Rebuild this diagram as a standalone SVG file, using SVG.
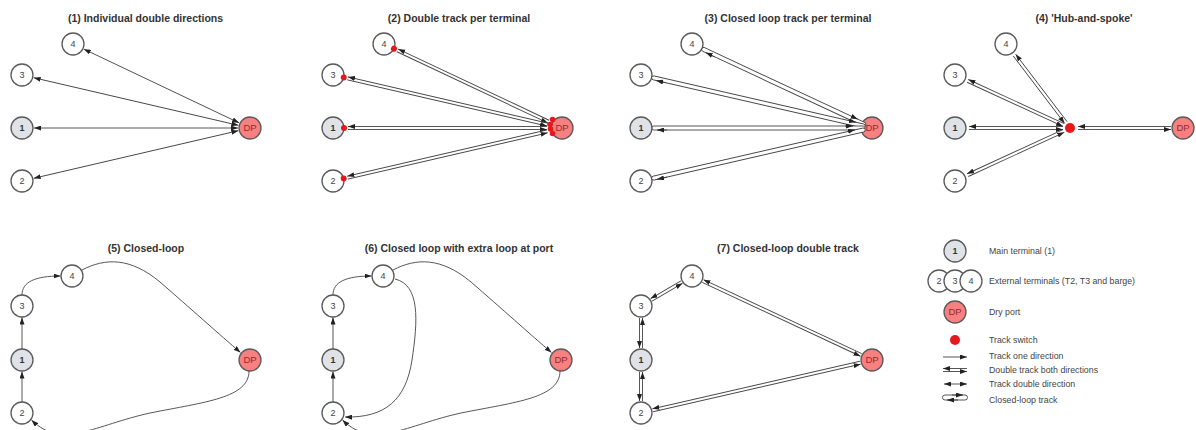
<svg xmlns="http://www.w3.org/2000/svg" width="1196" height="430" viewBox="0 0 1196 430">
<style>
.title{font-family:"Liberation Sans",Arial,sans-serif;font-size:10.5px;font-weight:bold;fill:#333;text-anchor:middle}
.nd circle{fill:#fff;stroke:#5a5a5a;stroke-width:1.3}
.nd text{font-family:"Liberation Sans",Arial,sans-serif;font-size:9px;fill:#444;text-anchor:middle}
.main circle{fill:#dfe3e8}
.main text{font-weight:bold;fill:#333}
.dp circle{fill:#f98080}
.dp text{fill:#8c2d2d;font-size:9.5px}
.conn line,.conn path{fill:none;stroke:#444;stroke-width:0.9}
.conn .loop{fill:#fff}
.uni{marker-end:url(#ah)}
.bi{marker-start:url(#ah);marker-end:url(#ah)}
.sw{fill:#e8171b}
.lg{font-family:"Liberation Sans",Arial,sans-serif;font-size:8.8px;fill:#444}
</style>
<defs>
<marker id="ah" viewBox="0 0 7 5" refX="7" refY="2.5" markerWidth="7" markerHeight="5" markerUnits="userSpaceOnUse" orient="auto-start-reverse"><path d="M0,0 L7,2.5 L0,5 z" fill="#222"/></marker>
</defs>
<rect width="1196" height="430" fill="#fff"/>

<!-- Panel 1 -->
<text class="title" x="145.5" y="22">(1) Individual double directions</text>
<g id="p1-n4" class="nd"><circle cx="73" cy="44" r="11"/><text x="73" y="47.2">4</text></g>
<g id="p1-n3" class="nd"><circle cx="22" cy="75" r="11"/><text x="22" y="78.2">3</text></g>
<g id="p1-n1" class="nd main"><circle cx="22" cy="128" r="11"/><text x="22" y="131.2">1</text></g>
<g id="p1-n2" class="nd"><circle cx="22" cy="181" r="11"/><text x="22" y="184.2">2</text></g>
<g id="p1-dp" class="nd dp"><circle cx="250" cy="128" r="11"/><text x="250" y="131.4">DP</text></g>
<g id="p1-connectors" class="conn">
<line class="bi" x1="34" y1="128" x2="238" y2="128"/>
<g transform="translate(73,44) rotate(25.39)"><line class="bi" x1="12" y1="0" x2="183.9" y2="0"/></g>
<g transform="translate(22,75) rotate(13.09)"><line class="bi" x1="12" y1="0" x2="222.1" y2="0"/></g>
<g transform="translate(22,181) rotate(-13.09)"><line class="bi" x1="12" y1="0" x2="222.1" y2="0"/></g>
</g>

<!-- Panel 2 -->
<text class="title" x="459" y="22">(2) Double track per terminal</text>
<g id="p2-n4" class="nd"><circle cx="384" cy="44" r="11"/><text x="384" y="47.2">4</text></g>
<g id="p2-n3" class="nd"><circle cx="333" cy="75" r="11"/><text x="333" y="78.2">3</text></g>
<g id="p2-n1" class="nd main"><circle cx="333" cy="128" r="11"/><text x="333" y="131.2">1</text></g>
<g id="p2-n2" class="nd"><circle cx="333" cy="181" r="11"/><text x="333" y="184.2">2</text></g>
<g id="p2-dp" class="nd dp"><circle cx="562" cy="128" r="11"/><text x="562" y="131.4">DP</text></g>
<g id="p2-connectors" class="conn">
<g transform="translate(384,44) rotate(25.26)"><path class="uni" d="M181.8,-1.5 H15"/><path class="uni" d="M15,1.5 H181.8"/><circle class="sw" cx="11" cy="0" r="3"/></g>
<g transform="translate(333,75) rotate(13.03)"><path class="uni" d="M220,-1.5 H15"/><path class="uni" d="M15,1.5 H220"/><circle class="sw" cx="11" cy="0" r="3"/></g>
<g transform="translate(333,128)"><path class="uni" d="M214,-1.5 H15"/><path class="uni" d="M15,1.5 H214"/><circle class="sw" cx="11" cy="0" r="3"/></g>
<g transform="translate(333,181) rotate(-13.03)"><path class="uni" d="M220,-1.5 H15"/><path class="uni" d="M15,1.5 H220"/><circle class="sw" cx="11" cy="0" r="3"/></g>
<circle class="sw" cx="552.5" cy="119.5" r="2.8"/>
<circle class="sw" cx="550" cy="124.5" r="2.8"/>
<circle class="sw" cx="550.5" cy="129" r="2.8"/>
<circle class="sw" cx="552.5" cy="133.5" r="2.8"/>
</g>

<!-- Panel 3 -->
<text class="title" x="788" y="22">(3) Closed loop track per terminal</text>
<g id="p3-n4" class="nd"><circle cx="692" cy="44" r="11"/><text x="692" y="47.2">4</text></g>
<g id="p3-n3" class="nd"><circle cx="641" cy="75" r="11"/><text x="641" y="78.2">3</text></g>
<g id="p3-n1" class="nd main"><circle cx="641" cy="128" r="11"/><text x="641" y="131.2">1</text></g>
<g id="p3-n2" class="nd"><circle cx="641" cy="181" r="11"/><text x="641" y="184.2">2</text></g>
<g id="p3-dp" class="nd dp"><circle cx="872" cy="128" r="11"/><text x="872" y="131.4">DP</text></g>
<g id="p3-connectors" class="conn">
<g transform="translate(692,44) rotate(25.02)"><path class="loop" d="M13,-2 H189.6 A2,2 0 0 1 189.6,2 H13 A2,2 0 0 1 13,-2 Z"/><path class="uni" d="M175,-2 H182"/><path class="uni" d="M26,2 H16"/></g>
<g transform="translate(641,75) rotate(12.92)"><path class="loop" d="M13,-2 H228 A2,2 0 0 1 228,2 H13 A2,2 0 0 1 13,-2 Z"/><path class="uni" d="M213,-2 H220"/><path class="uni" d="M26,2 H16"/></g>
<g transform="translate(641,128)"><path class="loop" d="M13,-2 H222 A2,2 0 0 1 222,2 H13 A2,2 0 0 1 13,-2 Z"/><path class="uni" d="M204,-2 H212"/><path class="uni" d="M26,2 H16"/></g>
<g transform="translate(641,181) rotate(-12.92)"><path class="loop" d="M13,-2 H228 A2,2 0 0 1 228,2 H13 A2,2 0 0 1 13,-2 Z"/><path class="uni" d="M213,-2 H220"/><path class="uni" d="M26,2 H16"/></g>
</g>

<!-- Panel 4 -->
<text class="title" x="1084" y="22">(4) 'Hub-and-spoke'</text>
<g id="p4-n4" class="nd"><circle cx="1006" cy="44" r="11"/><text x="1006" y="47.2">4</text></g>
<g id="p4-n3" class="nd"><circle cx="955" cy="75" r="11"/><text x="955" y="78.2">3</text></g>
<g id="p4-n1" class="nd main"><circle cx="955" cy="128" r="11"/><text x="955" y="131.2">1</text></g>
<g id="p4-n2" class="nd"><circle cx="955" cy="181" r="11"/><text x="955" y="184.2">2</text></g>
<g id="p4-dp" class="nd dp"><circle cx="1183" cy="128" r="11"/><text x="1183" y="131.4">DP</text></g>
<g id="p4-connectors" class="conn">
<g transform="translate(1006,44) rotate(52.70)"><path class="uni" d="M98.6,-1.5 H14"/><path class="uni" d="M14,1.5 H98.6"/></g>
<g transform="translate(955,75) rotate(24.74)"><path class="uni" d="M119.6,-1.5 H14"/><path class="uni" d="M14,1.5 H119.6"/></g>
<g transform="translate(955,128)"><path class="uni" d="M108,-1.5 H14"/><path class="uni" d="M14,1.5 H108"/></g>
<g transform="translate(955,181) rotate(-24.74)"><path class="uni" d="M119.6,-1.5 H14"/><path class="uni" d="M14,1.5 H119.6"/></g>
<g transform="translate(1070,128)"><path class="uni" d="M101,-1.5 H8"/><path class="uni" d="M8,1.5 H101"/></g>
</g>
<g id="p4-hub"><circle class="sw" cx="1070" cy="128" r="5"/></g>

<!-- Panel 5 -->
<text class="title" x="146" y="252">(5) Closed-loop</text>
<g id="p5-n4" class="nd"><circle cx="72" cy="276" r="11"/><text x="72" y="279.2">4</text></g>
<g id="p5-n3" class="nd"><circle cx="22" cy="306" r="11"/><text x="22" y="309.2">3</text></g>
<g id="p5-n1" class="nd main"><circle cx="22" cy="360" r="11"/><text x="22" y="363.2">1</text></g>
<g id="p5-n2" class="nd"><circle cx="22" cy="413" r="11"/><text x="22" y="416.2">2</text></g>
<g id="p5-dp" class="nd dp"><circle cx="250" cy="360" r="11"/><text x="250" y="363.4">DP</text></g>
<g id="p5-connectors" class="conn">
<path class="uni" d="M22,402 V371.5"/>
<path class="uni" d="M22,349 V317.5"/>
<path class="uni" d="M22,295 C22,282 35,276 60.5,276"/>
<path class="uni" d="M82,270 C105,258 130,257 160,282 C190,308 220,335 240.5,352.5"/>
<path class="uni" d="M249,371 C249,398 205,402 150,413 C95,425 62,450 31.5,420"/>
</g>

<!-- Panel 6 -->
<text class="title" x="459" y="252">(6) Closed loop with extra loop at port</text>
<g id="p6-n4" class="nd"><circle cx="383" cy="276" r="11"/><text x="383" y="279.2">4</text></g>
<g id="p6-n3" class="nd"><circle cx="333" cy="306" r="11"/><text x="333" y="309.2">3</text></g>
<g id="p6-n1" class="nd main"><circle cx="333" cy="360" r="11"/><text x="333" y="363.2">1</text></g>
<g id="p6-n2" class="nd"><circle cx="333" cy="413" r="11"/><text x="333" y="416.2">2</text></g>
<g id="p6-dp" class="nd dp"><circle cx="561" cy="360" r="11"/><text x="561" y="363.4">DP</text></g>
<g id="p6-connectors" class="conn" transform="translate(311,0)">
<path class="uni" d="M22,402 V371.5"/>
<path class="uni" d="M22,349 V317.5"/>
<path class="uni" d="M22,295 C22,282 35,276 60.5,276"/>
<path class="uni" d="M82,270 C105,258 130,257 160,282 C190,308 220,335 240.5,352.5"/>
<path class="uni" d="M249,371 C249,398 205,402 150,413 C95,425 62,450 31.5,420"/>
<path class="uni" d="M84,279 C109,285 107,320 101,360 C95,400 74,418 34,417"/>
</g>

<!-- Panel 7 -->
<text class="title" x="788" y="252">(7) Closed-loop double track</text>
<g id="p7-n4" class="nd"><circle cx="692" cy="276" r="11"/><text x="692" y="279.2">4</text></g>
<g id="p7-n3" class="nd"><circle cx="641" cy="306" r="11"/><text x="641" y="309.2">3</text></g>
<g id="p7-n1" class="nd main"><circle cx="641" cy="360" r="11"/><text x="641" y="363.2">1</text></g>
<g id="p7-n2" class="nd"><circle cx="641" cy="413" r="11"/><text x="641" y="416.2">2</text></g>
<g id="p7-dp" class="nd dp"><circle cx="872" cy="360" r="11"/><text x="872" y="363.4">DP</text></g>
<g id="p7-connectors" class="conn">
<g transform="translate(641,306) rotate(-30.47)"><path class="uni" d="M47.2,-1.5 H12"/><path class="uni" d="M12,1.5 H47.2"/></g>
<g transform="translate(641,360) rotate(-90)"><path class="uni" d="M42,-1.5 H12"/><path class="uni" d="M12,1.5 H42"/></g>
<g transform="translate(641,413) rotate(-90)"><path class="uni" d="M41,-1.5 H12"/><path class="uni" d="M12,1.5 H41"/></g>
<g transform="translate(692,276) rotate(25.02)"><path class="uni" d="M186.6,-1.5 H12"/><path class="uni" d="M12,1.5 H186.6"/></g>
<g transform="translate(641,413) rotate(-12.92)"><path class="uni" d="M225,-1.5 H12"/><path class="uni" d="M12,1.5 H225"/></g>
</g>

<!-- Legend -->
<g id="legend">
<g id="lg-main" class="nd main"><circle cx="955" cy="251" r="11"/><text x="955" y="254.2">1</text></g>
<text class="lg" x="989" y="253.8">Main terminal (1)</text>
<g id="lg-ext" class="nd"><circle cx="939" cy="281" r="11"/><text x="939" y="284.2">2</text><circle cx="955" cy="281" r="11"/><text x="955" y="284.2">3</text><circle cx="971" cy="281" r="11"/><text x="971" y="284.2">4</text></g>
<text class="lg" x="989" y="284">External terminals (T2, T3 and barge)</text>
<g id="lg-dp" class="nd dp"><circle cx="955" cy="312" r="11"/><text x="955" y="315.4">DP</text></g>
<text class="lg" x="989" y="315">Dry port</text>
<circle class="sw" cx="955" cy="340" r="5"/>
<text class="lg" x="989" y="342.5">Track switch</text>
<g class="conn">
<path class="uni" d="M943,357 H967"/>
<path class="uni" d="M967,368.5 H943"/>
<path class="uni" d="M943,371.5 H967"/>
<path class="bi" d="M944,384 H967"/>
<path class="loop" d="M945,395 H965 A2.5,2.5 0 0 1 965,400 H945 A2.5,2.5 0 0 1 945,395 Z"/>
<path class="uni" d="M952,395 H963"/>
<path class="uni" d="M958,400 H947"/>
</g>
<text class="lg" x="989" y="358.7">Track one direction</text>
<text class="lg" x="989" y="372.7">Double track both directions</text>
<text class="lg" x="989" y="387.4">Track double direction</text>
<text class="lg" x="989" y="402.7">Closed-loop track</text>
</g>
</svg>
